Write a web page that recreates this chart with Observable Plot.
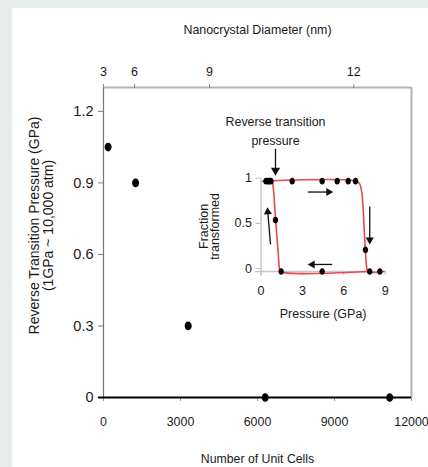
<!DOCTYPE html>
<html><head><meta charset="utf-8">
<script src="https://cdn.jsdelivr.net/npm/d3@7"></script>
<script src="https://cdn.jsdelivr.net/npm/@observablehq/plot@0.6"></script>
<style>
html,body{margin:0;padding:0}
body{background:#e6ebeb;width:428px;height:467px;overflow:hidden;position:relative}
#panel{position:absolute;left:12px;top:8px;width:416px;height:459px;background:#fff}
#main,#inset{position:absolute;left:0;top:0}
</style></head><body>
<div id="panel"></div><div id="main"></div><div id="inset"></div>
<script>
// ---- main chart data ----
const unitCells = [180, 1250, 3300, 6300, 11150];
const reversePressure = [1.05, 0.9, 0.3, 0, 0];
const cellTicks = [0, 3000, 6000, 9000, 12000];
const pressureTicks = [0, 0.3, 0.6, 0.9, 1.2];
const diameterLabels = [3, 6, 9, 12];
const diameterTickCells = [0, 1210, 4130, 9750];

// ---- inset data ----
const insetPressure = [0.36, 0.5, 0.6, 0.72, 2.26, 4.43, 5.52, 6.32, 6.85, 1.05, 7.57, 1.46, 4.43, 7.88, 8.61];
const insetFraction = [1, 1, 1, 1, 1, 1, 1, 1, 1, 0.57, 0.24, 0, 0, 0, 0];
const loopCompression = [[0.1,1],[6.95,1],[7.15,0.97],[7.3,0.88],[7.4,0.7],[7.5,0.4],[7.58,0.2],[7.65,0.06],[7.75,0],[8.9,0]];
const loopDecompression = [[7.75,0],[1.42,0],[1.33,0.04],[1.25,0.2],[1.12,0.45],[1.0,0.7],[0.92,0.88],[0.86,0.97],[0.8,1]];
const insetPressureTicks = [0, 3, 6, 9];
const insetFractionTicks = [0, 0.5, 1];
const insetArrows = [
  {x1: 1.05, y1: 1.36, x2: 1.05, y2: 1.12, big: true},
  {x1: 3.39, y1: 0.88, x2: 4.9, y2: 0.88},
  {x1: 7.88, y1: 0.72, x2: 7.88, y2: 0.35},
  {x1: 5.16, y1: 0.078, x2: 3.72, y2: 0.078},
  {x1: 0.69, y1: 0.3, x2: 0.49, y2: 0.66}
];

const W = 428, H = 467;
const FONT = '"Liberation Sans",Arial,Helvetica,sans-serif';

const ellipse = {draw(ctx, size) {
  const r = Math.sqrt(size / Math.PI), rx = r * 0.9, ry = r * 1.12, k = 0.5523;
  ctx.moveTo(rx, 0);
  ctx.bezierCurveTo(rx, ry * k, rx * k, ry, 0, ry);
  ctx.bezierCurveTo(-rx * k, ry, -rx, ry * k, -rx, 0);
  ctx.bezierCurveTo(-rx, -ry * k, -rx * k, -ry, 0, -ry);
  ctx.bezierCurveTo(rx * k, -ry, rx, -ry * k, rx, 0);
  ctx.closePath();
}};

const mainPoints = unitCells.map((c, i) => ({cells: c, p: reversePressure[i]}));
const diamMap = new Map(diameterTickCells.map((c, i) => [c, diameterLabels[i]]));

const main = Plot.plot({
  width: W, height: H,
  marginLeft: 103, marginRight: 17, marginTop: 87, marginBottom: 70,
  style: {background: "transparent", fontFamily: FONT, color: "#1a1a1a", overflow: "visible"},
  x: {domain: [0, 12000], axis: null},
  y: {domain: [0, 1.3], axis: null},
  marks: [
    Plot.ruleY([1.3], {x1: 0, x2: 12000, stroke: "#b4b4b4", strokeWidth: 2}),
    Plot.ruleX([12000], {y1: 0, y2: 1.3, stroke: "#b4b4b4", strokeWidth: 2}),
    Plot.ruleX([0], {y1: 0, y2: 1.3, stroke: "#777", strokeWidth: 1.2}),
    Plot.axisY(pressureTicks, {anchor: "left", tickSize: 5, tickPadding: 5, fontSize: 14.5, stroke: "#777",
      tickFormat: d => d === 0 ? "0" : d.toFixed(1), label: null}),
    Plot.axisX(cellTicks, {anchor: "bottom", tickSize: 4, tickPadding: 16, fontSize: 12.4, stroke: "#999",
      tickFormat: d => String(d), label: null}),
    Plot.axisX(diameterTickCells, {anchor: "top", tickSize: 4, tickPadding: 8, fontSize: 12.5, stroke: "#888",
      tickFormat: d => diamMap.get(d), label: null}),
    Plot.ruleY([0], {x1: -200, x2: 12000, stroke: "#000", strokeWidth: 2}),
    Plot.dot(mainPoints, {x: "cells", y: "p", r: 3.9, symbol: ellipse, fill: "#000", stroke: null}),
    Plot.text(["Nanocrystal Diameter (nm)"], {text: d => d, frameAnchor: "top", lineAnchor: "middle", dy: -57, fontSize: 12.4}),
    Plot.text(["Number of Unit Cells"], {text: d => d, frameAnchor: "bottom", lineAnchor: "middle", dy: 62, fontSize: 12.3}),
    Plot.text(["Reverse Transition Pressure (GPa)"], {text: d => d, frameAnchor: "left", textAnchor: "middle", dx: -69, dy: -17, rotate: -90, fontSize: 14}),
    Plot.text(["(1GPa ~ 10,000 atm)"], {text: d => d, frameAnchor: "left", textAnchor: "middle", dx: -55, dy: -17, rotate: -90, fontSize: 14})
  ]
});
document.getElementById("main").append(main);

// ---- inset ----
const iML = 260.5, iMR = 43.3, iMT = 180.7, iMB = 196;
const kx = (W - iML - iMR) / 9, ky = (H - iMT - iMB) / 1;
const arrowHeads = insetArrows.map(a => ({
  x: a.x2, y: a.y2, big: !!a.big,
  rot: Math.atan2((a.x2 - a.x1) * kx, (a.y2 - a.y1) * ky) * 180 / Math.PI
}));
const insetPoints = insetPressure.map((p, i) => ({p, f: insetFraction[i]}));

const inset = Plot.plot({
  width: W, height: H,
  marginLeft: iML, marginRight: iMR, marginTop: iMT, marginBottom: iMB,
  style: {background: "transparent", fontFamily: FONT, color: "#1a1a1a", overflow: "visible"},
  x: {domain: [0, 9], axis: null},
  y: {domain: [0, 1], axis: null},
  marks: [
    Plot.ruleX([0], {y1: -0.05, y2: 1.03, stroke: "#c8c8c8", strokeWidth: 1.5}),
    Plot.ruleY([0], {x1: -0.4, x2: 9.1, stroke: "#c8c8c8", strokeWidth: 1.5}),
    Plot.axisX(insetPressureTicks, {anchor: "bottom", tickSize: 4, tickPadding: 11, fontSize: 12.5, stroke: "#bbb",
      tickFormat: d => String(d), label: null}),
    Plot.axisY(insetFractionTicks, {anchor: "left", tickSize: 5, tickPadding: 4, fontSize: 12.5, stroke: "#bbb", dy: -3,
      tickFormat: d => String(d), label: null}),
    Plot.line(loopCompression, {x: d => d[0], y: d => d[1], stroke: "#e5484d", strokeWidth: 1.6, curve: "catmull-rom"}),
    Plot.line(loopDecompression, {x: d => d[0], y: d => d[1], stroke: "#e5484d", strokeWidth: 1.6, curve: "catmull-rom"}),
    Plot.dot(insetPoints, {x: "p", y: "f", r: 3, symbol: ellipse, fill: "#000", stroke: null}),
    Plot.link(insetArrows, {x1: "x1", y1: "y1", x2: "x2", y2: "y2", stroke: "#111", strokeWidth: 1.3}),
    Plot.dot(arrowHeads, {x: "x", y: "y", r: d => d.big ? 3.6 : 2.8, symbol: "triangle", rotate: "rot", fill: "#111", stroke: null}),
    Plot.text(["Reverse transition"], {text: d => d, x: 1.05, y: 1.65, fontSize: 12.4}),
    Plot.text(["pressure"], {text: d => d, x: 1.05, y: 1.45, fontSize: 12.4}),
    Plot.text(["Fraction"], {text: d => d, frameAnchor: "left", textAnchor: "middle", dx: -57.5, rotate: -90, fontSize: 12.5}),
    Plot.text(["transformed"], {text: d => d, frameAnchor: "left", textAnchor: "middle", dx: -46.5, rotate: -90, fontSize: 12.5}),
    Plot.text(["Pressure (GPa)"], {text: d => d, frameAnchor: "bottom", lineAnchor: "middle", dy: 42.5, fontSize: 12.5})
  ]
});
document.getElementById("inset").append(inset);
</script>
</body></html>
